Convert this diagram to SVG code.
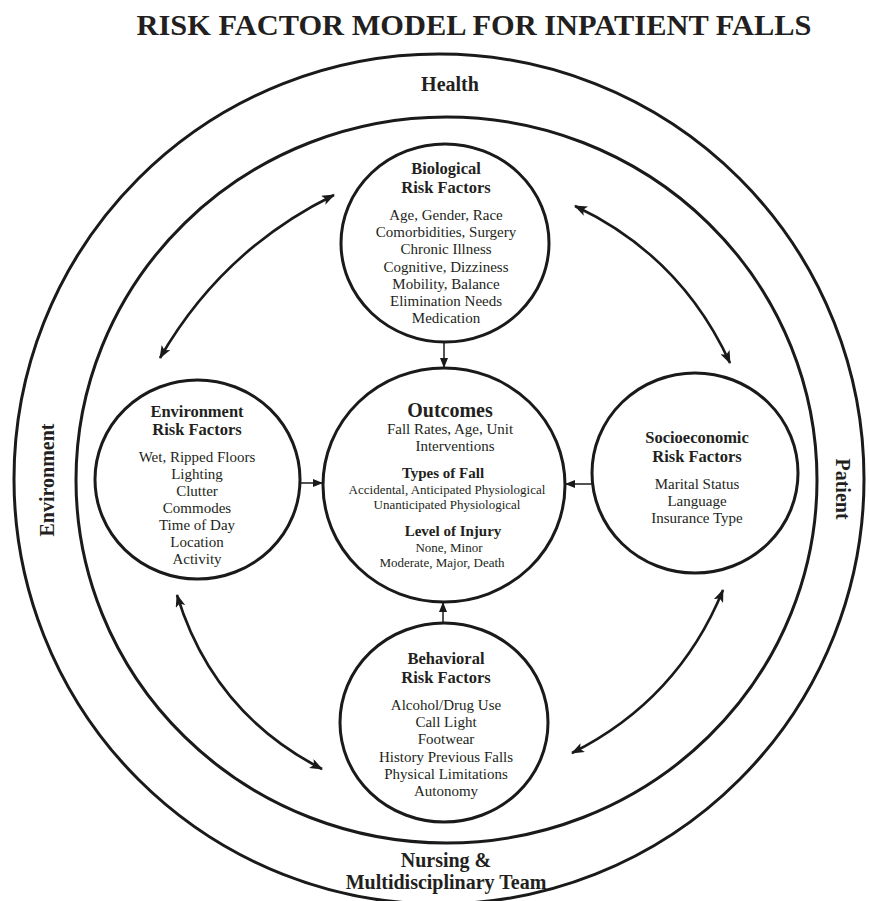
<svg xmlns="http://www.w3.org/2000/svg" width="869" height="901" viewBox="0 0 869 901">
<style>
  .ring{fill:none;stroke:#1a1a1a;stroke-width:3}
  .node{fill:#fff;stroke:#1a1a1a;stroke-width:3}
  .t{font-family:"Liberation Serif","Times New Roman",serif;fill:#231f20;text-anchor:middle}
  .title{font-size:29px;font-weight:bold}
  .lbl{font-size:20px;font-weight:bold}
  .nt{font-size:16.5px;font-weight:bold}
  .it{font-size:15px}
  .sm{font-size:13px}
  .sb{font-size:15px;font-weight:bold}
  .curve{fill:none;stroke:#1a1a1a;stroke-width:2.6;marker-start:url(#ah);marker-end:url(#ah)}
  .str{fill:none;stroke:#1a1a1a;stroke-width:1.5;marker-end:url(#as)}
</style>
<defs>
  <marker id="ah" viewBox="0 0 13 10" refX="12" refY="5" markerWidth="13" markerHeight="10" markerUnits="userSpaceOnUse" orient="auto-start-reverse">
    <path d="M0,0 L13,5 L0,10 L3,5 z" fill="#1a1a1a"/>
  </marker>
  <marker id="as" viewBox="0 0 10 8" refX="10" refY="4" markerWidth="10" markerHeight="8" markerUnits="userSpaceOnUse" orient="auto">
    <path d="M0,0 L10,4 L0,8 z" fill="#1a1a1a"/>
  </marker>
</defs>
<rect width="869" height="901" fill="#fff"/>
<text class="t title" x="474" y="35" textLength="675" lengthAdjust="spacingAndGlyphs">RISK FACTOR MODEL FOR INPATIENT FALLS</text>

<g id="ring-outer">
  <circle class="ring" cx="439" cy="479" r="425"/>
  <text class="t lbl" x="450" y="91">Health</text>
  <text class="t lbl" transform="translate(54,480) rotate(-90)">Environment</text>
  <text class="t lbl" transform="translate(836,489) rotate(90)">Patient</text>
  <text class="t lbl" x="446" y="867">Nursing &amp;</text>
  <text class="t lbl" x="446" y="889">Multidisciplinary Team</text>
</g>
<g id="ring-inner">
  <ellipse class="ring" cx="446.5" cy="480" rx="370.5" ry="363"/>
</g>

<g id="biological">
  <ellipse class="node" cx="445" cy="243" rx="104" ry="99"/>
  <text class="t nt" x="446" y="174">Biological</text>
  <text class="t nt" x="446" y="193">Risk Factors</text>
  <text class="t it" x="446" y="220">Age, Gender, Race</text>
  <text class="t it" x="446" y="237">Comorbidities, Surgery</text>
  <text class="t it" x="446" y="254">Chronic Illness</text>
  <text class="t it" x="446" y="272">Cognitive, Dizziness</text>
  <text class="t it" x="446" y="289">Mobility, Balance</text>
  <text class="t it" x="446" y="306">Elimination Needs</text>
  <text class="t it" x="446" y="323">Medication</text>
</g>

<g id="outcomes">
  <ellipse class="node" cx="444" cy="485" rx="121" ry="117"/>
  <text class="t" style="font-size:20px;font-weight:bold" x="450" y="417">Outcomes</text>
  <text class="t it" x="450" y="434">Fall Rates, Age, Unit</text>
  <text class="t it" x="455" y="451">Interventions</text>
  <text class="t sb" x="443" y="478">Types of Fall</text>
  <text class="t sm" x="447" y="494">Accidental, Anticipated Physiological</text>
  <text class="t sm" x="447" y="509">Unanticipated Physiological</text>
  <text class="t sb" x="453" y="536">Level of Injury</text>
  <text class="t sm" x="449" y="552">None, Minor</text>
  <text class="t sm" x="442" y="567">Moderate, Major, Death</text>
</g>

<g id="environment">
  <ellipse class="node" cx="197.5" cy="479.5" rx="102.5" ry="99.5"/>
  <text class="t nt" x="197" y="417">Environment</text>
  <text class="t nt" x="197" y="435">Risk Factors</text>
  <text class="t it" x="197" y="462">Wet, Ripped Floors</text>
  <text class="t it" x="197" y="479">Lighting</text>
  <text class="t it" x="197" y="496">Clutter</text>
  <text class="t it" x="197" y="513">Commodes</text>
  <text class="t it" x="197" y="530">Time of Day</text>
  <text class="t it" x="197" y="547">Location</text>
  <text class="t it" x="197" y="564">Activity</text>
</g>

<g id="socioeconomic">
  <ellipse class="node" cx="695" cy="473" rx="103" ry="100"/>
  <text class="t nt" x="697" y="443">Socioeconomic</text>
  <text class="t nt" x="697" y="462">Risk Factors</text>
  <text class="t it" x="697" y="489">Marital Status</text>
  <text class="t it" x="697" y="506">Language</text>
  <text class="t it" x="697" y="523">Insurance Type</text>
</g>

<g id="behavioral">
  <ellipse class="node" cx="444" cy="722.5" rx="104" ry="99.5"/>
  <text class="t nt" x="446" y="664">Behavioral</text>
  <text class="t nt" x="446" y="683">Risk Factors</text>
  <text class="t it" x="446" y="710">Alcohol/Drug Use</text>
  <text class="t it" x="446" y="727">Call Light</text>
  <text class="t it" x="446" y="744">Footwear</text>
  <text class="t it" x="446" y="762">History Previous Falls</text>
  <text class="t it" x="446" y="779">Physical Limitations</text>
  <text class="t it" x="446" y="796">Autonomy</text>
</g>

<g id="connectors">
  <path class="str" d="M444,342 L444,368"/>
  <path class="str" d="M300,483 L323,483"/>
  <path class="str" d="M592,484 L565,484"/>
  <path class="str" d="M443,623 L443,602"/>
  <path class="curve" d="M334,195 Q222,250 160,358"/>
  <path class="curve" d="M575,206 Q681,256 730,363"/>
  <path class="curve" d="M177,595 Q213,713 322,769"/>
  <path class="curve" d="M723,590 Q678,700 572,753"/>
</g>
</svg>
